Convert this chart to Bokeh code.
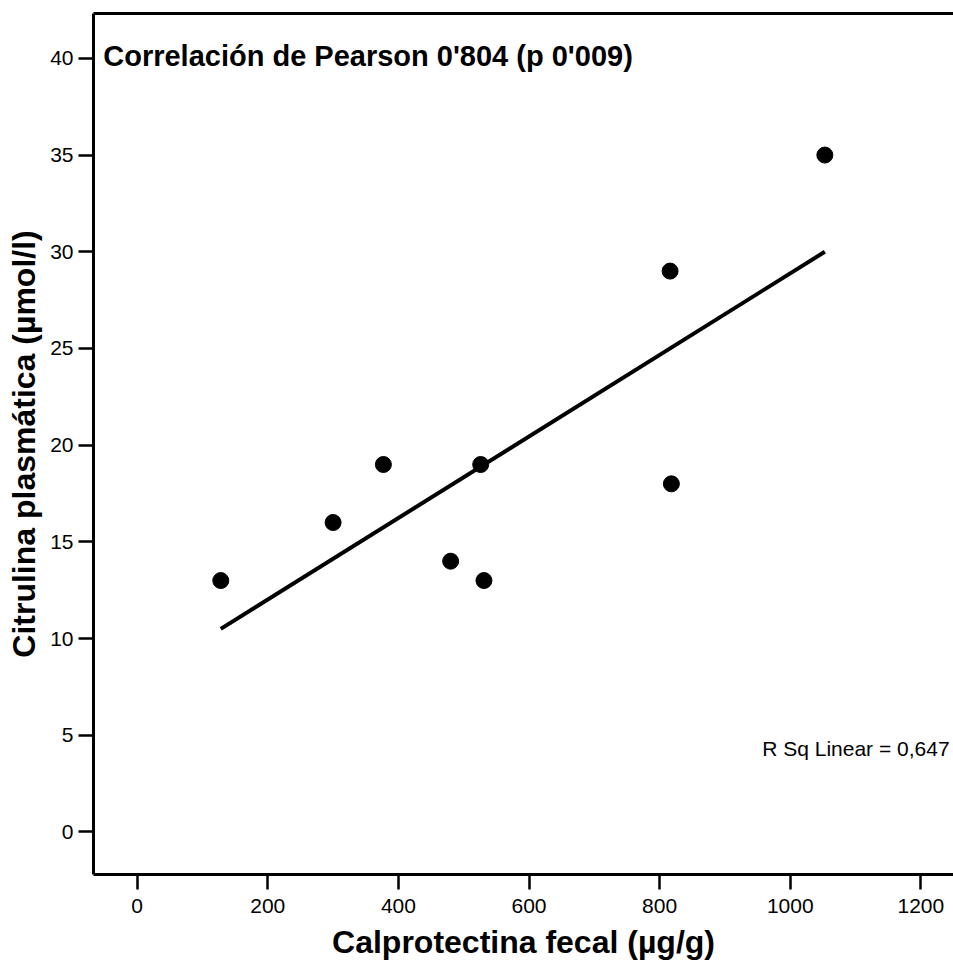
from bokeh.plotting import figure
from bokeh.models import Range1d, LinearAxis, FixedTicker, Label
from bokeh.embed import file_html
from bokeh.resources import INLINE

# Data
calprotectina = [128, 300, 377, 480, 526, 531, 816, 818, 1053]
citrulina = [13, 16, 19, 14, 19, 13, 29, 18, 35]
fit_x = [128, 1053]
fit_y = [10.5, 30.0]
x_ticks = [0, 200, 400, 600, 800, 1000, 1200]
y_ticks = [0, 5, 10, 15, 20, 25, 30, 35, 40]

title_text = "Correlación de Pearson 0'804 (p 0'009)"
rsq_text = "R Sq Linear = 0,647"
x_label = "Calprotectina fecal (µg/g)"
y_label = "Citrulina plasmática (µmol/l)"

FONT = "Liberation Sans"

p = figure(width=953, height=963, output_backend="svg", toolbar_location=None,
           x_range=Range1d(-66.9, 1250), y_range=Range1d(-2.2, 42.32),
           x_axis_location=None, y_axis_location=None,
           min_border_left=93, min_border_right=0, min_border_top=13, min_border_bottom=89)
p.outline_line_color = None
p.xgrid.visible = False
p.ygrid.visible = False
p.background_fill_color = "white"
p.border_fill_color = "white"

def style_axis(ax):
    ax.axis_line_width = 3
    ax.axis_line_color = "black"
    ax.major_tick_line_width = 2.5
    ax.major_tick_line_color = "black"
    ax.major_tick_in = 0
    ax.major_tick_out = 15
    ax.minor_tick_line_color = None
    ax.major_label_text_font = FONT
    ax.major_label_text_font_size = "21px"
    ax.major_label_text_color = "black"
    ax.major_label_standoff = 5
    ax.axis_label_text_font = FONT
    ax.axis_label_text_font_size = "32px"
    ax.axis_label_text_font_style = "bold"
    ax.axis_label_text_color = "black"

xaxis = LinearAxis(ticker=FixedTicker(ticks=x_ticks), axis_label=x_label)
style_axis(xaxis)
xaxis.major_label_standoff = 9
xaxis.axis_label_standoff = 8
p.add_layout(xaxis, "below")

yaxis = LinearAxis(ticker=FixedTicker(ticks=y_ticks), axis_label=y_label)
style_axis(yaxis)
yaxis.axis_label_standoff = 5
p.add_layout(yaxis, "left")

top_axis = LinearAxis(ticker=FixedTicker(ticks=[]))
top_axis.axis_line_width = 3
top_axis.axis_line_color = "black"
top_axis.major_tick_line_color = None
top_axis.minor_tick_line_color = None
top_axis.major_label_text_font_size = "0px"
p.add_layout(top_axis, "above")

p.line(fit_x, fit_y, line_color="black", line_width=4)
p.scatter(calprotectina, citrulina, size=16, color="black")

p.add_layout(Label(x=-52, y=40.12, text=title_text, text_font=FONT,
                   text_font_size="29px", text_font_style="bold",
                   text_color="black", text_baseline="alphabetic"))
p.add_layout(Label(x=1244, y=4.33, text=rsq_text, text_font=FONT,
                   text_font_size="21px", text_color="black",
                   text_align="right", text_baseline="alphabetic"))

open("out.html", "w").write(file_html(p, INLINE))
